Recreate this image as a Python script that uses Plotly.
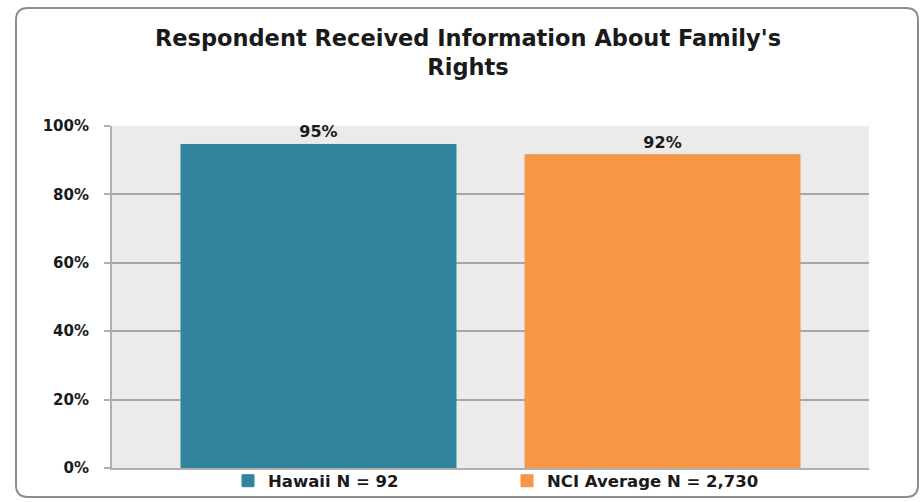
import plotly.graph_objects as go

title_text = "Respondent Received Information About Family's<br>Rights"
category = [""]
series_names = ["Hawaii N = 92", "NCI Average N = 2,730"]
series_values = [94.6, 91.6]
series_labels = ["95%", "92%"]
series_colors = ["#31849B", "#F79646"]
y_tickvals = [0, 20, 40, 60, 80, 100]
y_ticktext = ["0%", "20%", "40%", "60%", "80%", "100%"]

W, H = 923, 502
ML, MR, MT, MB = 112, 54, 126, 34
PW, PH = W - ML - MR, H - MT - MB

def px_x(p):
    return (p - ML) / PW

def px_y(p):
    return 1 - (p - MT) / PH

fig = go.Figure()
for name, val, lab, col in zip(series_names, series_values, series_labels, series_colors):
    fig.add_trace(go.Bar(
        x=category, y=[val], name=name,
        marker=dict(color=col, line=dict(color=col, width=1)),
        text=[lab], textposition="outside", cliponaxis=False,
        textfont=dict(family="DejaVu Sans", size=16, color="#1a1a1a", weight="bold"),
    ))

# rounded frame around the chart
x0, x1 = px_x(16), px_x(918)
y0, y1 = px_y(497), px_y(8)
rx, ry = 12 / PW, 12 / PH
path = (f"M {x0+rx},{y1} L {x1-rx},{y1} Q {x1},{y1} {x1},{y1-ry} "
        f"L {x1},{y0+ry} Q {x1},{y0} {x1-rx},{y0} "
        f"L {x0+rx},{y0} Q {x0},{y0} {x0},{y0+ry} "
        f"L {x0},{y1-ry} Q {x0},{y1} {x0+rx},{y1} Z")
fig.add_shape(type="path", path=path, xref="paper", yref="paper",
              line=dict(color="#8c8c8c", width=2), layer="below")

fig.update_layout(
    width=W, height=H,
    margin=dict(l=ML, r=MR, t=MT, b=MB, pad=0, autoexpand=False),
    paper_bgcolor="white", plot_bgcolor="#EBEBEB",
    barmode="group", bargap=0.0911, bargroupgap=0.2006,
    title=dict(text=f"<b>{title_text}</b>", x=468 / W, xanchor="center", xref="container",
               y=1 - 45.5 / H, yanchor="middle", yref="container",
               font=dict(family="DejaVu Sans", size=22.5, color="#1a1a1a")),
    showlegend=True,
    legend=dict(orientation="h", x=228 / W, xanchor="left", xref="container",
                y=1 - 481 / H, yanchor="middle", yref="container",
                entrywidth=234, entrywidthmode="pixels",
                font=dict(family="DejaVu Sans", size=16.5, color="#1a1a1a", weight="bold"),
                bgcolor="rgba(0,0,0,0)", traceorder="normal"),
    font=dict(family="DejaVu Sans", color="#1a1a1a"),
)
fig.update_xaxes(showticklabels=False, showline=True, linecolor="#B0B0B0", linewidth=2,
                 ticks="", showgrid=False, mirror=False)
fig.update_yaxes(range=[0, 100], tickvals=y_tickvals, ticktext=y_ticktext,
                 showline=True, linecolor="#B0B0B0", linewidth=2,
                 ticks="outside", ticklen=6, tickcolor="#B0B0B0", tickwidth=2,
                 showgrid=True, gridcolor="#A6A6A6", gridwidth=1.5,
                 ticklabelstandoff=12, zeroline=False,
                 tickfont=dict(family="DejaVu Sans", size=15, color="#1a1a1a", weight="bold"))

fig.write_html("out.html", config={"displayModeBar": False},
               post_script="document.body.style.margin='0';document.body.style.overflow='hidden';")
